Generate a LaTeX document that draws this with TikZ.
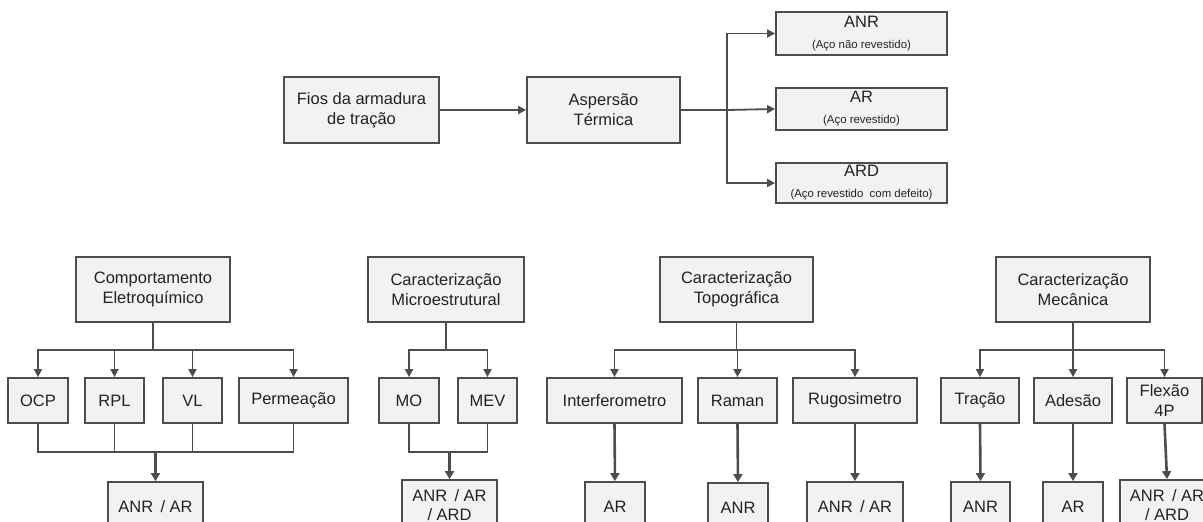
\documentclass[tikz,border=0pt]{standalone}
\usepackage{fontspec}
\setmainfont{Liberation Sans}
\usetikzlibrary{arrows.meta}
\definecolor{boxfill}{HTML}{F2F2F2}
\definecolor{edge}{HTML}{4D4D4D}
\definecolor{ink}{HTML}{222222}
\begin{document}
\begin{tikzpicture}[x=1pt,y=-1pt,
  box/.style={draw=edge, fill=boxfill, line width=1.8pt, text=ink, align=center,
    inner sep=0pt, font=\fontsize{16.5}{20}\selectfont},
  ln/.style={draw=edge, line width=1.8pt},
  arr/.style={ln, -{Triangle[length=8pt,width=8pt]}},
  tarr/.style={draw=edge, line width=2.6pt, -{Triangle[length=8pt,width=9pt]}}]
\useasboundingbox (0,0) rectangle (1203,522);
\clip (0,0) rectangle (1203,522);

% ---- process chain ----
\node[box, minimum width=155pt, minimum height=66pt] (fios) at (361.5,110) {Fios da armadura\\de tração};
\node[box, minimum width=153pt, minimum height=66pt] (asp) at (603.5,110) {Aspersão\\Térmica};
\node[box, minimum width=171pt, minimum height=43pt] (anr) at (861.5,33.5)
  {ANR\\[1pt]{\fontsize{11.4}{13}\selectfont (Aço não revestido)}};
\node[box, minimum width=171pt, minimum height=42pt] (ar) at (861.5,109)
  {AR\\[1pt]{\fontsize{11.4}{13}\selectfont (Aço revestido)}};
\node[box, minimum width=171pt, minimum height=40pt] (ard) at (861.5,183)
  {ARD\\[1pt]{\fontsize{11.4}{13}\selectfont (Aço revestido\ \ com defeito)}};

\coordinate (split) at (727,110);
\draw[arr] (fios) -- (asp);
\draw[ln] (asp.east) -- (split);
\draw[arr] (split) |- (anr.west);
\draw[arr] (split) -- (ar.west);
\draw[arr] (split) |- (ard.west);

% ---- test groups ----
\node[box, minimum width=154pt, minimum height=65pt] (comp)  at (153,289.5)   {Comportamento\\Eletroquímico};
\node[box, minimum width=156pt, minimum height=65pt] (micro) at (446,289.5)   {Caracterização\\Microestrutural};
\node[box, minimum width=153pt, minimum height=65pt] (topo)  at (736.5,289.5) {Caracterização\\Topográfica};
\node[box, minimum width=154pt, minimum height=65pt] (mec)   at (1073,289.5)  {Caracterização\\Mecânica};

% ---- techniques ----
\tikzset{tech/.style={box, minimum height=45pt}}
\node[tech, minimum width=60pt]  (ocp)    at (38,400.5)    {OCP};
\node[tech, minimum width=59pt]  (rpl)    at (114.5,400.5) {RPL};
\node[tech, minimum width=59pt]  (vl)     at (192.5,400.5) {VL};
\node[tech, minimum width=109pt] (perm)   at (293.5,400.5) {Permeação};
\node[tech, minimum width=60pt]  (mo)     at (409,400.5)   {MO};
\node[tech, minimum width=59pt]  (mev)    at (487.5,400.5) {MEV};
\node[tech, minimum width=135pt] (interf) at (614.5,400.5) {Interferometro};
\node[tech, minimum width=79pt]  (raman)  at (737.5,400.5) {Raman};
\node[tech, minimum width=124pt] (rugo)   at (855,400.5)   {Rugosimetro};
\node[tech, minimum width=78pt]  (tracao) at (980,400.5)   {Tração};
\node[tech, minimum width=78pt]  (adesao) at (1073,400.5)  {Adesão};
\node[tech, minimum width=75pt]  (flexao) at (1164.5,400.5){Flexão\\4P};

% ---- samples ----
\tikzset{samp/.style={box, minimum height=50pt}}
\node[samp, minimum width=95pt] (s1) at (155.5,507) {ANR\ \,/ AR};
\node[samp, minimum width=95pt, font=\fontsize{16.5}{19}\selectfont] (s2) at (449.5,505) {ANR\ \,/ AR\\/ ARD};
\node[samp, minimum width=60pt] (s3) at (615,507)   {AR};
\node[samp, minimum width=60pt] (s4) at (738,508)   {ANR};
\node[samp, minimum width=96pt] (s5) at (855,507)   {ANR\ \,/ AR};
\node[samp, minimum width=59pt] (s6) at (980.5,507) {ANR};
\node[samp, minimum width=60pt] (s7) at (1073,507)  {AR};
\node[samp, minimum width=94pt, font=\fontsize{16.5}{19}\selectfont] (s8) at (1167,505) {ANR\ \,/ AR\\/ ARD};

% ---- electrochemical branch ----
\coordinate (b1) at (153,350);
\coordinate (m1) at (155.5,452);
\draw[ln] (comp.south) -- (b1);
\foreach \t in {ocp,rpl,vl,perm} \draw[arr] (b1) -| (\t.north);
\foreach \t in {ocp,rpl,vl,perm} \draw[ln] (\t.south) |- (m1);
\draw[tarr] (m1) -- (s1.north);

% ---- microstructural branch ----
\coordinate (b2) at (446,350);
\coordinate (m2) at (449.5,452);
\draw[ln] (micro.south) -- (b2);
\foreach \t in {mo,mev} \draw[arr] (b2) -| (\t.north);
\foreach \t in {mo,mev} \draw[ln] (\t.south) |- (m2);
\draw[tarr] (m2) -- (s2.north);

% ---- topographic branch ----
\coordinate (b3) at (736.5,350);
\draw[ln] (topo.south) -- (b3);
\foreach \t in {interf,raman,rugo} \draw[arr] (b3) -| (\t.north);
\draw[tarr] (interf.south) -- (s3.north);
\draw[tarr] (raman.south) -- (s4.north);
\draw[tarr] (rugo.south) -- (s5.north);

% ---- mechanical branch ----
\coordinate (b4) at (1073,350);
\draw[ln] (mec.south) -- (b4);
\foreach \t in {tracao,adesao,flexao} \draw[arr] (b4) -| (\t.north);
\draw[tarr] (tracao.south) -- (s6.north);
\draw[tarr] (adesao.south) -- (s7.north);
\draw[tarr] (flexao.south) -- (s8.north);
\end{tikzpicture}
\end{document}
